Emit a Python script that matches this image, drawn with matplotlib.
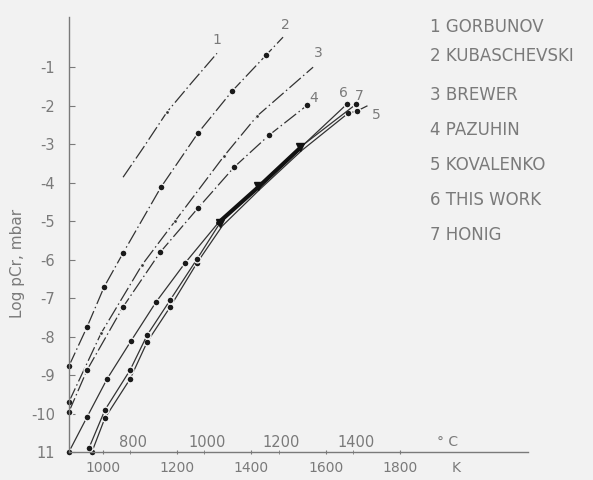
import matplotlib
matplotlib.use('Agg')
import matplotlib.pyplot as plt

# =============================================================================
# Vapour pressure of Cr: log p (mbar) against T (K)
# =============================================================================

# 1 GORBUNOV
t1 = [1054, 1108, 1172, 1240, 1307]
lp1 = [-3.86, -3.10, -2.17, -1.39, -0.64]
# 2 KUBASCHEVSKI
t2 = [908, 957, 1003, 1054, 1156, 1256, 1348, 1439, 1485]
lp2 = [-8.77, -7.75, -6.71, -5.83, -4.12, -2.71, -1.62, -0.69, -0.22]
# 3 BREWER
t3 = [908, 995, 1105, 1194, 1326, 1415, 1566]
lp3 = [-9.70, -7.91, -6.14, -5.00, -3.31, -2.27, -1.00]
# 4 PAZUHIN
t4 = [908, 957, 1054, 1154, 1256, 1353, 1447, 1550]
lp4 = [-9.96, -8.87, -7.23, -5.81, -4.66, -3.60, -2.77, -1.99]
# 5 KOVALENKO
t5 = [970, 1005, 1073, 1119, 1181, 1253, 1321, 1423, 1536, 1660, 1684, 1711]
lp5 = [-11.0, -10.12, -9.10, -8.14, -7.23, -6.09, -5.13, -4.17, -3.16, -2.20, -2.14, -2.01]
# 6 THIS WORK
t6 = [908, 957, 1011, 1075, 1143, 1221, 1310, 1418, 1531, 1657]
lp6 = [-11.0, -10.09, -9.10, -8.12, -7.10, -6.09, -5.05, -4.12, -3.10, -1.96]
# 7 HONIG
t7 = [962, 1005, 1073, 1119, 1181, 1253, 1315, 1418, 1531, 1682]
lp7 = [-10.90, -9.91, -8.87, -7.96, -7.05, -5.99, -5.05, -4.09, -3.08, -1.96]

names = ['1 GORBUNOV', '2 KUBASCHEVSKI', '3 BREWER', '4 PAZUHIN',
         '5 KOVALENKO', '6 THIS WORK', '7 HONIG']

k_ticks = [1000, 1200, 1400, 1600, 1800]
k_labels = ['1000', '1200', '1400', '1600', '1800']
c_ticks = [800, 1000, 1200, 1400]
y_ticks = [-1, -2, -3, -4, -5, -6, -7, -8, -9, -10, -11]
y_labels = ['-1', '-2', '-3', '-4', '-5', '-6', '-7', '-8', '-9', '-10', '11']

bg = '#f2f2f2'
ink = '#333333'
txt = '#7a7a7a'
plt.rcParams['font.family'] = ['DejaVu Sans']

fig = plt.figure(figsize=(5.93, 4.80), dpi=100, facecolor=bg)
ax = fig.add_axes([0.1164, 0.0583, 0.774, 0.906])
ax.set_facecolor(bg)

dashdot = (0, (12, 2.5, 1.2, 2.5))
dot = dict(marker='o', ms=5, mfc='#1a1a1a', mec=bg, mew=1.0)

ax.plot(t1, lp1, color=ink, lw=0.9, ls=dashdot, markevery=[2],
        marker='o', ms=3, mfc=ink, mec=bg, mew=1.0, clip_on=False)
ax.plot(t2, lp2, color=ink, lw=0.9, ls=dashdot, markevery=list(range(8)),
        clip_on=False, **dot)
ax.plot(t3, lp3, color=ink, lw=0.9, ls=dashdot, markevery=[1, 2, 3, 4, 5],
        marker='o', ms=2.8, mfc=ink, mec=bg, mew=0.8, clip_on=False)
ax.plot(t3[:1], lp3[:1], ls='none', clip_on=False, **dot)
ax.plot(t4, lp4, color=ink, lw=0.9, ls=dashdot, clip_on=False, **dot)
ax.plot(t5, lp5, color=ink, lw=0.9, markevery=[0, 1, 2, 3, 4, 5, 9, 10],
        clip_on=False, **dot)
ax.plot(t6, lp6, color=ink, lw=0.9, markevery=[0, 1, 2, 3, 4, 5, 9],
        clip_on=False, **dot)
ax.plot(t7, lp7, color=ink, lw=0.9, markevery=[0, 1, 2, 3, 4, 5, 9],
        clip_on=False, **dot)
# the three curves overlap into one heavy stroke in the middle
ax.plot(t6[6:9], lp6[6:9], color='#111111', lw=3.0, solid_capstyle='round')
ax.plot(t7[6:9], lp7[6:9], ls='none', marker='v', ms=5.5, color='#111111')

# curve numbers at the upper ends
ax.text(1307, -0.30, '1', color=txt, fontsize=10, ha='center', va='center')
ax.text(1490, 0.10, '2', color=txt, fontsize=10, ha='center', va='center')
ax.text(1580, -0.62, '3', color=txt, fontsize=10, ha='center', va='center')
ax.text(1568, -1.80, '4', color=txt, fontsize=10, ha='center', va='center')
ax.text(1648, -1.68, '6', color=txt, fontsize=10, ha='center', va='center')
ax.text(1690, -1.74, '7', color=txt, fontsize=10, ha='center', va='center')
ax.text(1735, -2.25, '5', color=txt, fontsize=10, ha='center', va='center')

ax.set_xlim(908.4, 2145)
ax.set_ylim(-11, 0.3)
for s in ['top', 'right']:
    ax.spines[s].set_visible(False)
for s in ['left', 'bottom']:
    ax.spines[s].set_color('#7a7a7a')
    ax.spines[s].set_linewidth(1.0)

ax.set_yticks(y_ticks)
ax.set_yticklabels(y_labels)
ax.set_xticks(k_ticks)
ax.set_xticklabels(k_labels)
ax.set_xticks([c + 273 for c in c_ticks], minor=True)
ax.tick_params(axis='y', direction='in', length=4, color='#7a7a7a',
               labelcolor=txt, labelsize=10.5, pad=10)
ax.tick_params(axis='x', which='both', direction='inout', length=3,
               color='#7a7a7a', labelcolor=txt, labelsize=10, pad=5)

# degrees Celsius scale written above the axis line
for c in c_ticks:
    ax.text(c + 273 + 8, -10.75, str(c), color=txt, fontsize=10.5,
            ha='center', va='center')
ax.text(1927, -10.75, '° C', color=txt, fontsize=10, ha='center', va='center')
ax.text(1951, -11.42, 'K', color=txt, fontsize=10, ha='center', va='center',
        clip_on=False)

fig.text(0.029, 1 - 263 / 480, 'Log pCr, mbar', rotation=90, color=txt,
         fontsize=11, ha='center', va='center')

leg_y = [27, 56, 95, 130, 165, 200, 235]
for name, y in zip(names, leg_y):
    fig.text(430 / 593, 1 - y / 480, name, color=txt, fontsize=12,
             ha='left', va='center')

fig.savefig('out.png', dpi=100, facecolor=bg)
